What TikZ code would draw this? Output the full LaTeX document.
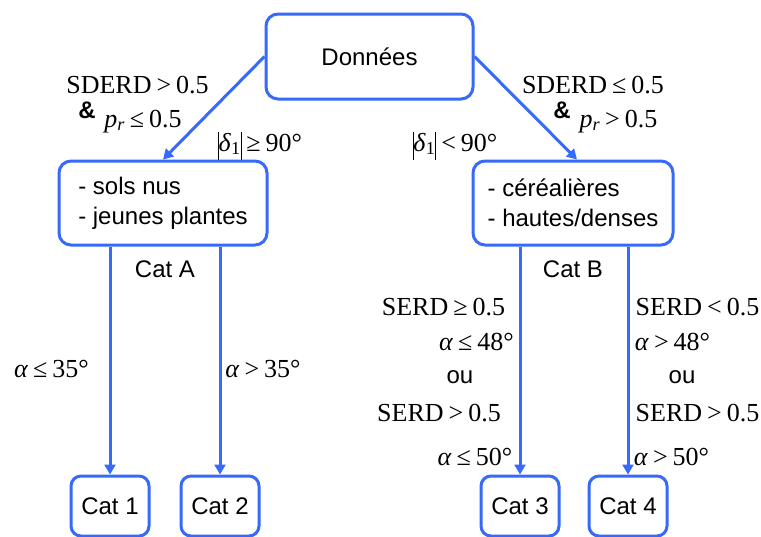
\documentclass[tikz,border=0pt]{standalone}
\usepackage{fontspec}
\setsansfont{Liberation Sans}
\newfontfamily\tmsfont{Liberation Serif}
\usepackage{tikz}
\usetikzlibrary{arrows.meta}

\definecolor{boxblue}{RGB}{55,105,250}
\newcommand{\absbar}{\rule[-9pt]{0.8pt}{28pt}}
\newcommand{\gap}{\hspace{5pt}}

\begin{document}
\begin{tikzpicture}[
  x=1pt, y=-1pt,
  font=\sffamily\fontsize{24}{30}\selectfont,
  box/.style={draw=boxblue, line width=3pt, rounded corners=12pt, inner sep=0pt},
  catbox/.style={box, rounded corners=10pt, minimum width=78pt, minimum height=60pt},
  link/.style={draw=boxblue, line width=3pt, -{Triangle[length=10pt, width=11pt]}},
  cond/.style={font=\tmsfont\fontsize{26}{30}\selectfont, inner sep=0pt, anchor=base},
  amp/.style={font=\sffamily\bfseries\fontsize{24}{30}\selectfont, inner sep=0pt, anchor=base},
]
  \useasboundingbox (0,0) rectangle (761,536);

  % Boxes
  \node[box, minimum width=207pt, minimum height=85pt] (donnees) at (369.5,56.5) {Données};
  \node[box, minimum width=208pt, minimum height=84pt, align=left] (solsnus) at (163,203)
    {- sols nus\\- jeunes plantes};
  \node[box, minimum width=200pt, minimum height=84pt, align=left] (cereales) at (573,203)
    {- céréalières\\- hautes/denses};
  \node[anchor=base, inner sep=0pt] (catA) at (165,277) {Cat A};
  \node[anchor=base, inner sep=0pt] (catB) at (573,277) {Cat B};

  \node[catbox] (cat1) at (110,506) {Cat 1};
  \node[catbox] (cat2) at (220,506) {Cat 2};
  \node[catbox] (cat3) at (520,506) {Cat 3};
  \node[catbox] (cat4) at (628,506) {Cat 4};

  % Links
  \draw[link] (donnees.west) -- (solsnus.north);
  \draw[link] (donnees.east) -- ([xshift=4pt]cereales.north);
  \foreach \c in {cat1, cat2} \draw[link] (solsnus.south -| \c.north) -- (\c.north);
  \foreach \c in {cat3, cat4} \draw[link] (cereales.south -| \c.north) -- (\c.north);

  % Conditions, top
  \node[cond] (sderdgt) at (137.5,93) {SDERD\gap>\gap0.5};
  \node[amp] (ampA) at (87,118) {\&};
  \node[cond] (prle) at (143,127) {\textit{p}\textsubscript{\textit{r}}\gap≤\gap0.5};
  \node[cond] (deltage) at (260,151) {\absbar\textit{δ}\textsubscript{1}\absbar\gap≥\gap90°};

  \node[cond] (sderdle) at (593,93) {SDERD\gap≤\gap0.5};
  \node[amp] (ampB) at (562,118) {\&};
  \node[cond] (prgt) at (618.5,127) {\textit{p}\textsubscript{\textit{r}}\gap>\gap0.5};
  \node[cond] (deltalt) at (455,151) {\absbar\textit{δ}\textsubscript{1}\absbar\gap<\gap90°};

  % Conditions, Cat A
  \node[cond] (alphale) at (51.5,377) {\textit{α}\gap≤\gap35°};
  \node[cond] (alphagt) at (263,377) {\textit{α}\gap>\gap35°};

  % Conditions, Cat B
  \node[cond] (serdge) at (443.5,315) {SERD\gap≥\gap0.5};
  \node[cond] (alphale48) at (476.5,350) {\textit{α}\gap≤\gap48°};
  \node[anchor=base, inner sep=0pt] (ouC) at (460,383) {ou};
  \node[cond] (serdgtC) at (439,421) {SERD\gap>\gap0.5};
  \node[cond] (alphale50) at (475,465) {\textit{α}\gap≤\gap50°};

  \node[cond] (serdlt) at (697.5,315) {SERD\gap<\gap0.5};
  \node[cond] (alphagt48) at (672.5,350) {\textit{α}\gap>\gap48°};
  \node[anchor=base, inner sep=0pt] (ouD) at (682,383) {ou};
  \node[cond] (serdgtD) at (697.5,421) {SERD\gap>\gap0.5};
  \node[cond] (alphagt50) at (671.5,465) {\textit{α}\gap>\gap50°};
\end{tikzpicture}
\end{document}
